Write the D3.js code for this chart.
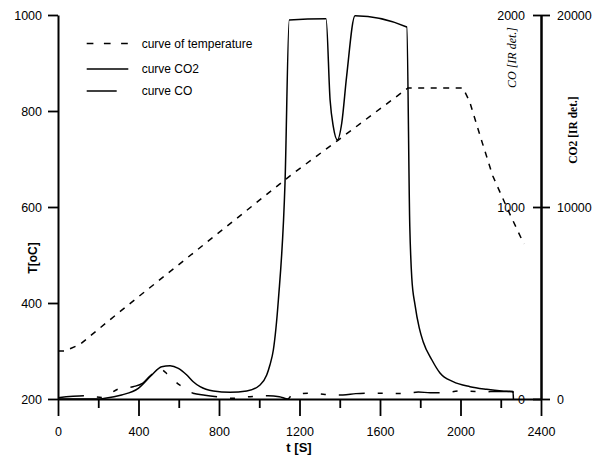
<!DOCTYPE html>
<html>
<head>
<meta charset="utf-8">
<script src="https://cdn.jsdelivr.net/npm/d3@7"></script>
<style>
  body { margin:0; background:#fff; }
  svg { display:block; }
</style>
</head>
<body>
<svg id="chart" width="592" height="456"></svg>
<script>
const PLOT = {
  LEFT:58,
  RIGHT:541,
  TOP:15,
  BOTTOM:399
};
const SANS = "'Liberation Sans', Arial, sans-serif";
const SERIF = "'Liberation Serif', 'Times New Roman', serif";

// tick values
const xTicks = [0, 400, 800, 1200, 1600, 2000, 2400];
const xMinorTicks = [200, 600, 1000, 1400, 1800, 2200];
const tempTicks = [200, 400, 600, 800, 1000];
const coTicks = [0, 1000, 2000];
const co2Ticks = [0, 10000, 20000];

// temperature curve (t [s], T [oC])
const tempTime  = [0, 35, 110, 255, 370, 1153, 1391, 1739, 2012, 2045, 2100, 2160, 2240, 2315];
const tempValue = [300, 300, 314, 364, 403, 665, 739, 848, 848, 820, 745, 665, 590, 523];

// CO2 curve (read against the 0..20000 axis)
const co2Time  = [0, 200, 234, 316, 399, 466, 515, 557, 598, 640, 672, 706, 772, 855, 938, 1004, 1037, 1053, 1070, 1095, 1128, 1149,
                  1332, 1352, 1368, 1388, 1410, 1434, 1476, 1733, 1748, 1758, 1774, 1795, 1814, 1858, 1898, 1963, 2047, 2130, 2205, 2261, 2263];
const co2Value = [0, 0, 36, 208, 557, 1250, 1682, 1734, 1599, 1250, 901, 641, 417, 349, 417, 729, 1250, 1771, 2552, 5156, 11250, 19740,
                  19807, 15573, 14182, 13490, 14375, 16786, 19964, 19375, 9000, 6300, 4900, 3700, 3000, 2031, 1354, 901, 641, 505, 417, 380, 0];

// CO curve (read against the 0..2000 axis)
const coTime  = [0, 130, 220, 300, 373, 422, 457, 482, 507, 548, 600, 621, 671, 730, 790, 865, 954, 1043, 1100, 1143, 1160, 1244,
                 1327, 1416, 1480, 1540, 1625, 1716, 1790, 1850, 1913, 2000, 2100, 2200, 2261, 2263];
const coValue = [7, 17, 8, 52, 64, 83, 120, 140, 156, 125, 76, 62, 30, 20, 12, 4, 12, 17, 12, 0, 18, 30,
                 24, 21, 28, 30, 30, 28, 36, 33, 33, 42, 38, 39, 39, 0];

const legendLabels = ["curve of temperature", "curve CO2", "curve CO"];

const svg = d3.select("#chart");

const xScale = d3.scaleLinear().domain([0, 2400]).range([PLOT.LEFT, PLOT.RIGHT]);
const tScale = d3.scaleLinear().domain([200, 1000]).range([PLOT.BOTTOM, PLOT.TOP]);
const coScale = d3.scaleLinear().domain([0, 2000]).range([PLOT.BOTTOM, PLOT.TOP]);
const co2Scale = d3.scaleLinear().domain([0, 20000]).range([PLOT.BOTTOM, PLOT.TOP]);

// curves
const curves = [
  {time: tempTime, value: tempValue, scale: tScale, dash: "6,6.5", curve: d3.curveLinear},
  {time: co2Time, value: co2Value, scale: co2Scale, dash: null, curve: d3.curveMonotoneX},
  {time: coTime, value: coValue, scale: coScale, dash: "26,13,5,13,5,13", curve: d3.curveMonotoneX}
];

svg.append("g").selectAll("path")
   .data(curves)
   .join("path")
   .attr("fill", "none")
   .attr("stroke", "#000")
   .attr("stroke-width", 1.5)
   .attr("stroke-dasharray", d => d.dash)
   .attr("d", d => d3.line()
                     .curve(d.curve)
                     .x((t) => xScale(t))
                     .y((t, i) => d.scale(d.value[i]))(d.time));

// axes
const plain = d3.format("d");
function styleAxis(g, size) {
  g.attr("font-family", SANS).attr("font-size", size);
  g.select(".domain").attr("stroke-width", 2);
  g.selectAll(".tick line").attr("stroke-width", 1.8);
}

svg.append("g")
   .attr("transform", "translate(0," + PLOT.BOTTOM + ")")
   .call(d3.axisBottom(xScale).tickValues(xMinorTicks).tickSize(9).tickFormat(""))
   .call(g => { styleAxis(g, 12.5); g.select(".domain").remove(); });

svg.append("g")
   .attr("transform", "translate(0," + PLOT.BOTTOM + ")")
   .call(d3.axisBottom(xScale).tickValues(xTicks).tickSize(17).tickSizeOuter(0).tickPadding(11).tickFormat(plain))
   .call(g => styleAxis(g, 12.5));

svg.append("g")
   .attr("transform", "translate(" + PLOT.LEFT + ",0)")
   .call(d3.axisLeft(tScale).tickValues(tempTicks).tickSize(10).tickSizeOuter(0).tickPadding(6).tickFormat(plain))
   .call(g => styleAxis(g, 12.5));

svg.append("g")
   .attr("transform", "translate(" + PLOT.RIGHT + ",0)")
   .call(d3.axisLeft(coScale).tickValues(coTicks).tickSize(8).tickSizeOuter(0).tickPadding(8).tickFormat(plain))
   .call(g => styleAxis(g, 12.5));

svg.append("g")
   .attr("transform", "translate(" + PLOT.RIGHT + ",0)")
   .call(d3.axisRight(co2Scale).tickValues(co2Ticks).tickSize(9).tickSizeOuter(0).tickPadding(7).tickFormat(plain))
   .call(g => styleAxis(g, 12.5));

// axis titles
svg.append("text")
   .attr("x", 299).attr("y", 451.5)
   .attr("text-anchor", "middle")
   .attr("font-family", SANS).attr("font-size", 13).attr("font-weight", "bold")
   .text("t [S]");

svg.append("text")
   .attr("transform", "translate(33,258) rotate(-90)")
   .attr("text-anchor", "middle").attr("dy", "0.35em")
   .attr("font-family", SANS).attr("font-size", 12).attr("font-weight", "bold")
   .text("T[oC]");

svg.append("text")
   .attr("transform", "translate(512,57.5) rotate(-90)")
   .attr("text-anchor", "middle").attr("dy", "0.35em")
   .attr("font-family", SERIF).attr("font-size", 12).attr("font-style", "italic")
   .text("CO [IR det.]");

svg.append("text")
   .attr("transform", "translate(573,130) rotate(-90)")
   .attr("text-anchor", "middle").attr("dy", "0.35em")
   .attr("font-family", SERIF).attr("font-size", 11.5).attr("font-weight", "bold")
   .text("CO2 [IR det.]");

// legend
const legendY = [43.5, 69, 91];
const legendLen = [41.6, 41.6, 30];
const legendDash = ["6.7,10.5", null, null];
const legend = svg.append("g");
legend.selectAll("line")
      .data(legendLabels)
      .join("line")
      .attr("x1", 86.7)
      .attr("x2", (d, i) => 86.7 + legendLen[i])
      .attr("y1", (d, i) => legendY[i])
      .attr("y2", (d, i) => legendY[i])
      .attr("stroke", "#000")
      .attr("stroke-width", 1.5)
      .attr("stroke-dasharray", (d, i) => legendDash[i]);
legend.selectAll("text")
      .data(legendLabels)
      .join("text")
      .attr("x", 141.7)
      .attr("y", (d, i) => legendY[i] + 4.3)
      .attr("font-family", SANS)
      .attr("font-size", 12)
      .text(d => d);
</script>
</body>
</html>
